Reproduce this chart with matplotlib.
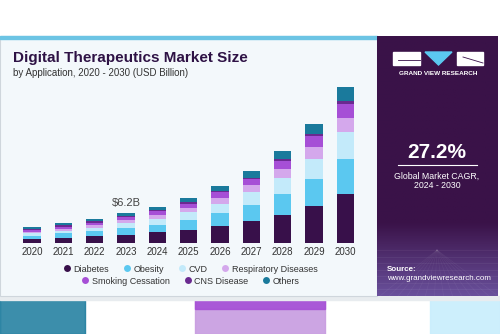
import matplotlib
matplotlib.use("Agg")
import matplotlib.pyplot as plt
import numpy as np
from matplotlib.patches import Rectangle, Polygon
from matplotlib.lines import Line2D

years = ["2020", "2021", "2022", "2023", "2024", "2025", "2026", "2027", "2028", "2029", "2030"]
diabetes = [0.97, 1.10, 1.45, 1.72, 2.27, 2.75, 3.58, 4.55, 5.91, 7.71, 10.25]
obesity = [0.62, 0.97, 1.03, 1.38, 1.57, 2.07, 2.62, 3.31, 4.28, 5.58, 7.23]
cvd = [0.48, 0.55, 0.69, 1.03, 1.24, 1.59, 1.93, 2.69, 3.37, 4.20, 5.58]
respiratory = [0.35, 0.41, 0.55, 0.69, 0.83, 0.89, 1.31, 1.45, 1.74, 2.36, 2.89]
smoking = [0.41, 0.41, 0.55, 0.62, 0.70, 0.89, 1.12, 1.31, 1.78, 2.27, 2.83]
cns = [0.21, 0.28, 0.28, 0.21, 0.28, 0.28, 0.28, 0.28, 0.35, 0.54, 0.69]
others = [0.41, 0.41, 0.48, 0.55, 0.69, 0.89, 1.03, 1.38, 1.72, 2.07, 2.77]
series_names = ["Diabetes", "Obesity", "CVD", "Respiratory Diseases",
                "Smoking Cessation", "CNS Disease", "Others"]
series_colors = ["#38104a", "#5bc8f0", "#c3eafa", "#d4a8ec", "#a64fd6", "#6a2a90", "#1a7a9c"]
highlight_year = "2023"
highlight_label = "$6.2B"
cagr = "27.2%"

W, H = 500, 334
fig = plt.figure(figsize=(5, 3.34), dpi=100)
fig.patch.set_facecolor("white")

def fx(px):
    return px / W

def fy(py):
    return 1 - py / H

# background overlay axes
bg = fig.add_axes([0, 0, 1, 1])
bg.set_xlim(0, W)
bg.set_ylim(H, 0)
bg.axis("off")

# decorative strips below card
bg.add_patch(Rectangle((0, 300), 85, 34, color="#1a7a9c", alpha=0.85))
bg.add_patch(Rectangle((195, 297), 130, 37, color="#c79be0", alpha=0.9))
bg.add_patch(Rectangle((195, 297), 130, 12, color="#a650d6", alpha=0.9))
bg.add_patch(Rectangle((430, 297), 70, 37, color="#c8eefc", alpha=0.9))
bg.add_patch(Rectangle((0, 296), 500, 4, color="#e8ecef"))

# card
bg.add_patch(Rectangle((0, 36), 377, 260, facecolor="#f3f8fb", edgecolor="#cfd6dc", lw=0.8))
bg.add_patch(Rectangle((0, 36), 377, 3, color="#6cc4e4"))
# dark panel with gradient
grad = np.linspace(0, 1, 100)
panel_top = np.array([58, 18, 72]) / 255
panel_bot = np.array([105, 80, 155]) / 255
img = np.zeros((100, 1, 3))
for i, g in enumerate(grad):
    t = max(0, (g - 0.72) / 0.28)
    img[i, 0] = panel_top * (1 - t) + panel_bot * t
bg.imshow(img, extent=(377, 498, 296, 36), aspect="auto", zorder=1)
for yy in np.linspace(250, 296, 8):
    bg.plot([377, 498], [yy, yy], color="white", alpha=0.07, lw=0.5, zorder=2)
for xx in np.linspace(380, 498, 14):
    bg.plot([437, xx], [250, 296], color="white", alpha=0.05, lw=0.5, zorder=2)

# logo
bg.add_patch(Rectangle((393, 52), 27, 13, color="white", zorder=3))
bg.plot([398, 420], [60, 60], color="#38104a", lw=0.6, zorder=4)
bg.add_patch(Polygon([[425, 52], [452, 52], [438.5, 65]], closed=True, color="#5bc8f0", zorder=3))
bg.add_patch(Rectangle((457, 52), 26, 13, color="white", zorder=3))
bg.plot([463, 483], [57, 63], color="#38104a", lw=0.6, zorder=4)
bg.text(438, 73.5, "GRAND VIEW RESEARCH", color="white", fontsize=4.6, fontweight="bold",
        ha="center", va="center", family="Liberation Sans", zorder=4)

bg.text(437, 152, cagr, color="white", fontsize=15, fontweight="bold",
        ha="center", va="center", family="Liberation Sans", zorder=4)
bg.plot([398, 477], [165, 165], color="white", lw=0.8, zorder=4)
bg.text(437, 176, "Global Market CAGR,", color="white", fontsize=6.3,
        ha="center", va="center", family="Liberation Sans", zorder=4)
bg.text(437, 186, "2024 - 2030", color="white", fontsize=6.3,
        ha="center", va="center", family="Liberation Sans", zorder=4)
bg.text(387, 269.5, "Source:", color="white", fontsize=5.8, fontweight="bold",
        ha="left", va="center", family="Liberation Sans", zorder=4)
bg.text(387, 278.5, "www.grandviewresearch.com", color="white", fontsize=5.8,
        ha="left", va="center", family="Liberation Sans", zorder=4)

# titles
bg.text(13, 58, "Digital Therapeutics Market Size", color="#2e1245", fontsize=11,
        fontweight="bold", ha="left", va="center", family="Liberation Sans", zorder=4)
bg.text(13, 73, "by Application, 2020 - 2030 (USD Billion)", color="#333333", fontsize=7,
        ha="left", va="center", family="Liberation Sans", zorder=4)

# chart axes
base_px, top_px = 243.3, 80.0
px_per_b = 30 / 6.2
left_px, right_px = 10, 370
ax = fig.add_axes([fx(left_px), fy(base_px), fx(right_px - left_px), (base_px - top_px) / H])
ax.patch.set_alpha(0)
x = np.arange(len(years))
step = 31.33
ax.set_xlim((left_px - 32) / step, (right_px - 32) / step)
ax.set_ylim(0, (base_px - top_px) / px_per_b)
data = [diabetes, obesity, cvd, respiratory, smoking, cns, others]
bottom = np.zeros(len(years))
handles = []
for name, vals, col in zip(series_names, data, series_colors):
    ax.bar(x, vals, width=0.55, bottom=bottom, color=col, edgecolor="none", zorder=3)
    bottom += np.array(vals)
    handles.append(Line2D([], [], marker="o", ls="none", markersize=5,
                          markerfacecolor=col, markeredgecolor="none", label=name))
hi = years.index(highlight_year)
ax.text(x[hi], bottom[hi] + 1.0, highlight_label, ha="center", va="bottom",
        fontsize=8, color="#444444", family="Liberation Sans")
ax.set_xticks(x)
ax.set_xticklabels(years, fontsize=7, color="#333333", family="Liberation Sans")
ax.tick_params(axis="x", length=0, pad=2.5)
ax.set_yticks([])
for s in ax.spines.values():
    s.set_visible(False)

leg_kw = dict(frameon=False, handletextpad=0.2, columnspacing=1.5,
              borderaxespad=0, handlelength=1.0,
              prop={"family": "Liberation Sans", "size": 6.5})
l1 = fig.legend(handles=handles[:4], ncol=4, loc="center", bbox_to_anchor=(fx(190), fy(269)), **leg_kw)
for t in l1.get_texts():
    t.set_color("#333333")
l2 = fig.legend(handles=handles[4:], ncol=3, loc="center", bbox_to_anchor=(fx(190), fy(281)), **leg_kw)
for t in l2.get_texts():
    t.set_color("#333333")

fig.savefig("out.png", dpi=100)
